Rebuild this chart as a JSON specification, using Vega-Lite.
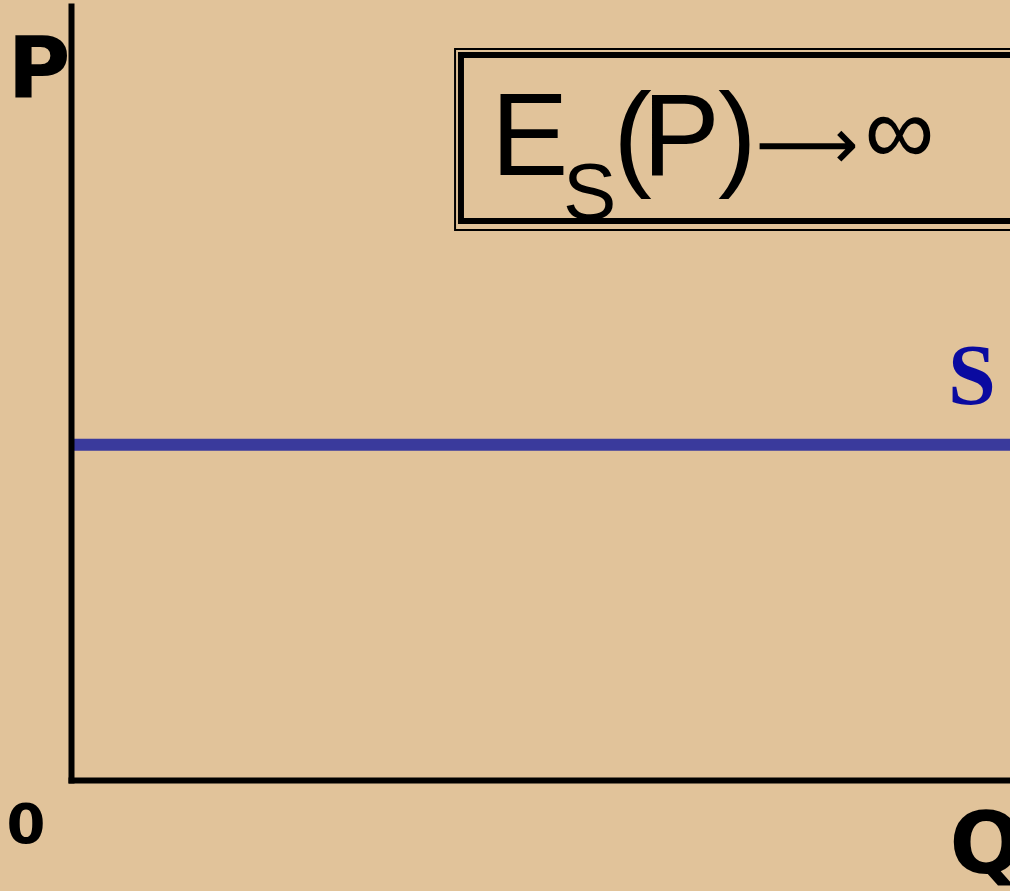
{
  "$schema": "https://vega.github.io/schema/vega-lite/v6.json",
  "width": 939,
  "height": 774,
  "padding": {"left": 71, "top": 6, "right": 0, "bottom": 111},
  "autosize": {"type": "none"},
  "background": "#e1c39a",
  "config": {"view": {"stroke": null}},
  "datasets": {
    "supply": [{"q_start": 0, "q_end": 100, "p": 43.3}],
    "supplyLabel": [{"label": "S", "q": 95.95, "p": 48.6}],
    "box": [{"q_start": 40.9, "q_end": 106, "p_low": 71.06, "p_high": 94.44}],
    "boxInner": [{"q_start": 41.53, "q_end": 106, "p_low": 72.22, "p_high": 93.67}],
    "formulaMain": [
      {"label": "E", "q": 44.73, "p": 78.17},
      {"label": "(", "q": 57.75, "p": 78.17},
      {"label": "P", "q": 60.85, "p": 78.17},
      {"label": ")", "q": 68.9, "p": 78.17}
    ],
    "formulaSub": [{"label": "S", "q": 52.4, "p": 72.48}],
    "formulaArrow": [{"label": "⟶", "q": 72.9, "p": 78.9}],
    "formulaInf": [{"label": "∞", "q": 84.5, "p": 79.6}],
    "origin": [{"label": "0", "q": 0, "p": 0}]
  },
  "layer": [
    {
      "data": {"name": "supply"},
      "mark": {"type": "rule", "color": "#3a3a9c", "strokeWidth": 12},
      "encoding": {
        "x": {
          "field": "q_start", "type": "quantitative",
          "scale": {"domain": [0, 100], "nice": false, "zero": false},
          "axis": {
            "title": "Q", "grid": false, "ticks": false, "labels": false,
            "domainColor": "#000000", "domainWidth": 6, "domainCap": "square", "zindex": 2,
            "titleFont": "DejaVu Sans", "titleFontWeight": "bold", "titleFontSize": 86, "titleColor": "#000000",
            "titleAlign": "left", "titleBaseline": "alphabetic", "titleX": 878, "titleY": 92, "titleAnchor": null
          }
        },
        "x2": {"field": "q_end"},
        "y": {
          "field": "p", "type": "quantitative",
          "scale": {"domain": [0, 100], "nice": false, "zero": false},
          "axis": {
            "title": "P", "grid": false, "ticks": false, "labels": false,
            "domainColor": "#000000", "domainWidth": 6, "domainCap": "square", "zindex": 2,
            "titleFont": "DejaVu Sans", "titleFontWeight": "bold", "titleFontSize": 86, "titleColor": "#000000",
            "titleAngle": 0, "titleAlign": "left", "titleBaseline": "alphabetic", "titleX": -64, "titleY": 91, "titleAnchor": null
          }
        }
      }
    },
    {
      "data": {"name": "supplyLabel"},
      "mark": {"type": "text", "font": "Liberation Serif", "fontWeight": "bold", "fontSize": 86, "color": "#0a0aa0", "align": "center", "baseline": "alphabetic"},
      "encoding": {
        "x": {"field": "q", "type": "quantitative"},
        "y": {"field": "p", "type": "quantitative"},
        "text": {"field": "label"}
      }
    },
    {
      "data": {"name": "box"},
      "mark": {"type": "rect", "fill": null, "stroke": "#000000", "strokeWidth": 2, "clip": false},
      "encoding": {
        "x": {"field": "q_start", "type": "quantitative"},
        "x2": {"field": "q_end"},
        "y": {"field": "p_low", "type": "quantitative"},
        "y2": {"field": "p_high"}
      }
    },
    {
      "data": {"name": "boxInner"},
      "mark": {"type": "rect", "fill": null, "stroke": "#000000", "strokeWidth": 6, "clip": false},
      "encoding": {
        "x": {"field": "q_start", "type": "quantitative"},
        "x2": {"field": "q_end"},
        "y": {"field": "p_low", "type": "quantitative"},
        "y2": {"field": "p_high"}
      }
    },
    {
      "data": {"name": "formulaMain"},
      "mark": {"type": "text", "font": "Liberation Sans", "fontSize": 116, "color": "#000000", "align": "left", "baseline": "alphabetic"},
      "encoding": {
        "x": {"field": "q", "type": "quantitative"},
        "y": {"field": "p", "type": "quantitative"},
        "text": {"field": "label"}
      }
    },
    {
      "data": {"name": "formulaSub"},
      "mark": {"type": "text", "font": "Liberation Sans", "fontSize": 80, "color": "#000000", "align": "left", "baseline": "alphabetic"},
      "encoding": {
        "x": {"field": "q", "type": "quantitative"},
        "y": {"field": "p", "type": "quantitative"},
        "text": {"field": "label"}
      }
    },
    {
      "data": {"name": "formulaArrow"},
      "mark": {"type": "text", "font": "DejaVu Sans", "fontSize": 72, "color": "#000000", "align": "left", "baseline": "alphabetic"},
      "encoding": {
        "x": {"field": "q", "type": "quantitative"},
        "y": {"field": "p", "type": "quantitative"},
        "text": {"field": "label"}
      }
    },
    {
      "data": {"name": "formulaInf"},
      "mark": {"type": "text", "font": "Liberation Sans", "fontSize": 98, "color": "#000000", "align": "left", "baseline": "alphabetic"},
      "encoding": {
        "x": {"field": "q", "type": "quantitative"},
        "y": {"field": "p", "type": "quantitative"},
        "text": {"field": "label"}
      }
    },
    {
      "data": {"name": "origin"},
      "mark": {"type": "text", "font": "DejaVu Sans", "fontWeight": "bold", "fontSize": 56, "color": "#000000", "align": "center", "baseline": "alphabetic", "dx": -45, "dy": 63, "clip": false},
      "encoding": {
        "x": {"field": "q", "type": "quantitative"},
        "y": {"field": "p", "type": "quantitative"},
        "text": {"field": "label"}
      }
    }
  ]
}
